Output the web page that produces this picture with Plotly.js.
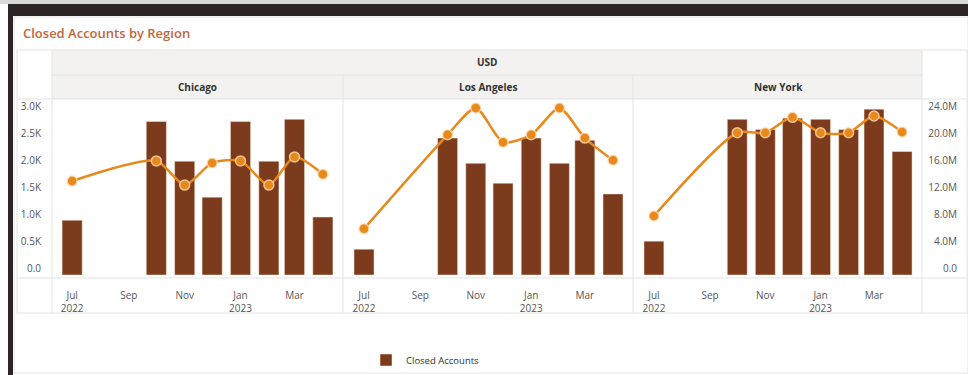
<!DOCTYPE html>
<html>
<head>
<meta charset="utf-8">
<script src="https://cdn.plot.ly/plotly-3.0.1.min.js"></script>
<style>
html,body{margin:0;padding:0;background:#ffffff;}
#chart{width:968px;height:375px;}
</style>
</head>
<body>
<div id="chart"></div>
<script>
// ---- data ----
var months = ['2022-07-01','2022-10-01','2022-11-01','2022-12-01','2023-01-01','2023-02-01','2023-03-01','2023-04-01'];
var regions = ['Chicago','Los Angeles','New York'];
var chicagoAccounts = [1020, 2860, 2120, 1450, 2860, 2120, 2900, 1080];
var chicagoAmount = [14.0e6, 17.0e6, 13.4e6, 16.7e6, 17.0e6, 13.4e6, 17.6e6, 15.0e6];
var laAccounts = [480, 2550, 2080, 1710, 2550, 2080, 2510, 1510];
var laAmount = [6.9e6, 20.9e6, 24.9e6, 19.8e6, 20.9e6, 24.9e6, 20.4e6, 17.1e6];
var nyAccounts = [630, 2900, 2710, 2920, 2900, 2710, 3090, 2300];
var nyAmount = [8.8e6, 21.2e6, 21.2e6, 23.5e6, 21.2e6, 21.2e6, 23.7e6, 21.3e6];
var xTickVals = ['2022-07-01','2022-09-01','2022-11-01','2023-01-01','2023-03-01'];
var xTickText = ['Jul<br>2022','Sep','Nov','Jan<br>2023','Mar'];
var leftTickVals = [0, 500, 1000, 1500, 2000, 2500, 3000];
var leftTickText = ['0.0','0.5K','1.0K','1.5K','2.0K','2.5K','3.0K'];
var rightTickVals = [0, 4e6, 8e6, 12e6, 16e6, 20e6, 24e6];
var rightTickText = ['0.0','4.0M','8.0M','12.0M','16.0M','20.0M','24.0M'];
var currencyLabel = 'USD';
var chartTitle = 'Closed Accounts by Region';
var barName = 'Closed Accounts';
var lineName = 'Closed Amount';

// ---- styling ----
var W = 968, H = 375;
function px(x){ return x / W; }
function py(y){ return 1 - y / H; }
var barColor = '#7b3b1c';
var lineColor = '#e8891c';
var gridCol = '#e3e3e3';
var fontFam = '"Open Sans", "Noto Sans", Arial, sans-serif';

var accounts = [chicagoAccounts, laAccounts, nyAccounts];
var amounts = [chicagoAmount, laAmount, nyAmount];
var barWidthMs = 22 * 24 * 3600 * 1000;

var traces = [];
for (var i = 0; i < 3; i++) {
  var xa = i === 0 ? 'x' : 'x' + (i + 1);
  var yb = i === 0 ? 'y' : 'y' + (2 * i + 1);
  var yl = 'y' + (2 * i + 2);
  traces.push({
    type: 'bar', x: months, y: accounts[i], xaxis: xa, yaxis: yb,
    name: barName, showlegend: i === 0, legendgroup: 'bar',
    width: barWidthMs,
    marker: {color: barColor, line: {color: 'rgba(255,235,220,0.6)', width: 0.8}}
  });
  traces.push({
    type: 'scatter', mode: 'lines+markers', x: months, y: amounts[i], xaxis: xa, yaxis: yl,
    name: lineName, showlegend: false, cliponaxis: false,
    line: {color: lineColor, width: 2.5, shape: 'spline', smoothing: 0.7},
    marker: {color: lineColor, size: 10, line: {color: 'rgba(255,225,190,0.75)', width: 1.5}}
  });
}

var xDomains = [[px(52), px(343)], [px(344), px(633)], [px(634), px(922)]];
var yTop = 100, yZero = 275;
var yDom = [py(yZero), py(yTop)];
var leftRange = [0, 3260];
var rightRange = [0, 26.08e6];
// extended domain for the right-hand amount axis (same scale, 10px padding each side)
var perPx = rightRange[1] / (yZero - yTop);
var rightDomExt = [py(yZero + 10), py(yTop - 10)];
var rightRangeExt = [-10 * perPx, rightRange[1] + 10 * perPx];

var layout = {
  width: W, height: H,
  margin: {l: 0, r: 0, t: 0, b: 0},
  paper_bgcolor: '#ffffff', plot_bgcolor: 'rgba(0,0,0,0)',
  font: {family: fontFam, size: 10, color: '#555555'},
  showlegend: true,
  legend: {
    orientation: 'h', x: px(366), y: py(360), xanchor: 'left', yanchor: 'middle',
    font: {family: fontFam, size: 9.5, color: '#333333'}, bgcolor: 'rgba(0,0,0,0)',
    itemwidth: 30
  },
  shapes: [],
  annotations: []
};

for (var j = 0; j < 3; j++) {
  var xk = j === 0 ? 'xaxis' : 'xaxis' + (j + 1);
  var ybk = j === 0 ? 'yaxis' : 'yaxis' + (2 * j + 1);
  var ylk = 'yaxis' + (2 * j + 2);
  var yb = j === 0 ? 'y' : 'y' + (2 * j + 1);
  var xa = j === 0 ? 'x' : 'x' + (j + 1);
  layout[xk] = {
    domain: xDomains[j], anchor: yb, type: 'date',
    range: ['2022-06-09', '2023-04-23'],
    tickvals: xTickVals, ticktext: xTickText,
    showgrid: false, zeroline: false, showline: false,
    ticks: 'outside', ticklen: 11, tickcolor: 'rgba(0,0,0,0)',
    tickfont: {family: fontFam, size: 10, color: '#555555'},
    automargin: false
  };
  layout[ybk] = {
    domain: yDom, anchor: xa, range: leftRange,
    showgrid: false, zeroline: false, showline: false,
    showticklabels: j === 0,
    tickvals: leftTickVals, ticktext: leftTickText,
    ticks: '', ticklabelstandoff: 10, ticklabelshift: -7,
    tickfont: {family: fontFam, size: 10, color: '#555555'},
    automargin: false
  };
  if (j === 2) {
    layout[ylk] = {
      domain: rightDomExt, range: rightRangeExt,
      anchor: 'free', position: px(960), side: 'right', ticklabelposition: 'inside',
      showgrid: false, zeroline: false, showline: false,
      tickvals: rightTickVals, ticktext: rightTickText,
      ticks: '', ticklabelshift: -7,
      tickfont: {family: fontFam, size: 10, color: '#555555'},
      automargin: false
    };
  } else {
    layout[ylk] = {
      domain: yDom, overlaying: yb, range: rightRange, anchor: xa, side: 'right',
      showgrid: false, zeroline: false, showline: false, showticklabels: false,
      automargin: false
    };
  }
}

function rect(x0, y0, x1, y1, fill, lineCol, lw, layer) {
  layout.shapes.push({type: 'rect', xref: 'paper', yref: 'paper', x0: px(x0), x1: px(x1), y0: py(y0), y1: py(y1),
    fillcolor: fill, line: {color: lineCol || 'rgba(0,0,0,0)', width: lw || 0}, layer: layer || 'below'});
}
function hline(x0, x1, y, col) {
  layout.shapes.push({type: 'line', xref: 'paper', yref: 'paper', x0: px(x0), x1: px(x1), y0: py(y), y1: py(y),
    line: {color: col || gridCol, width: 1}, layer: 'below'});
}
function vline(x, y0, y1, col) {
  layout.shapes.push({type: 'line', xref: 'paper', yref: 'paper', x0: px(x), x1: px(x), y0: py(y0), y1: py(y1),
    line: {color: col || gridCol, width: 1}, layer: 'below'});
}

// outer frame
rect(0, 0, 968, 4, '#d9d9d9');
rect(8, 4, 968, 16, '#2b2624');
rect(8, 4, 13, 375, '#2b2624');
rect(14, 17, 968, 373, '#ffffff', '#e4e4e4', 1);
// header band
rect(52, 50, 922, 99, '#f3f2f0');
// grid lines of the table
hline(17, 968, 50);
hline(52, 922, 75);
hline(17, 968, 99);
hline(17, 968, 278);
hline(17, 968, 313);
vline(17, 50, 313);
vline(52, 50, 313);
vline(343, 75, 313);
vline(633, 75, 313);
vline(922, 50, 313);
vline(967, 50, 313);

// title and headers
layout.annotations.push({xref: 'paper', yref: 'paper', x: px(21), y: py(33), xanchor: 'left', yanchor: 'middle',
  text: chartTitle, showarrow: false, font: {family: fontFam, size: 13, color: '#bf673c', weight: 600}});
layout.annotations.push({xref: 'paper', yref: 'paper', x: px(487), y: py(62), xanchor: 'center', yanchor: 'middle',
  text: currencyLabel, showarrow: false, font: {family: fontFam, size: 10, color: '#333333', weight: 'bold'}});
var headerCenters = [197, 488, 778];
for (var k = 0; k < 3; k++) {
  layout.annotations.push({xref: 'paper', yref: 'paper', x: px(headerCenters[k]), y: py(87), xanchor: 'center', yanchor: 'middle',
    text: regions[k], showarrow: false, font: {family: fontFam, size: 10, color: '#333333', weight: 'bold'}});
}

Plotly.newPlot('chart', traces, layout, {staticPlot: true, displayModeBar: false});
</script>
</body>
</html>
